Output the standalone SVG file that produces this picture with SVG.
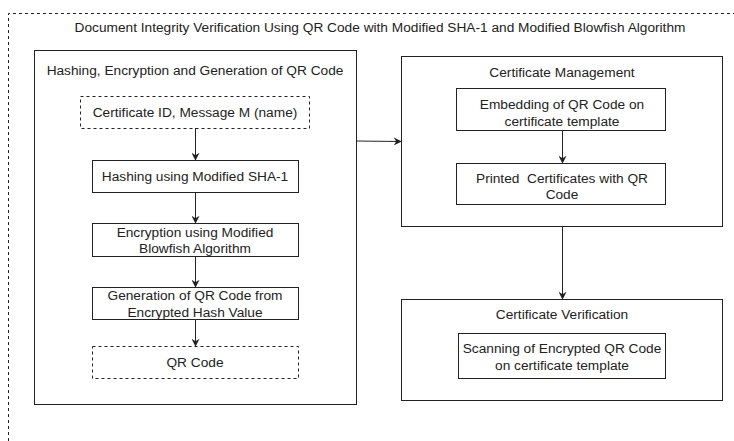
<svg xmlns="http://www.w3.org/2000/svg" width="734" height="441" viewBox="0 0 734 441">
<style>
text{font-family:"Liberation Sans",Arial,sans-serif;font-size:13.7px;fill:#222;text-anchor:middle;dominant-baseline:central;white-space:pre}
.box{fill:#fff;stroke:#222;stroke-width:1}
.dash{fill:#fff;stroke:#222;stroke-width:1;stroke-dasharray:3,3}
.c{fill:none;stroke:#222;stroke-width:1}
</style>
<defs>
<marker id="ah" viewBox="0 0 10 10" refX="9" refY="5" markerWidth="8" markerHeight="8" orient="auto" markerUnits="userSpaceOnUse"><path d="M0,0 L10,5 L0,10 L3,5 z" fill="#222"/></marker>
</defs>
<rect width="734" height="441" fill="#fff"/>
<g id="frame">
<path d="M8.5,441 L8.5,13.5 L734,13.5" fill="none" stroke="#222" stroke-dasharray="3,3"/>
<text x="380" y="27">Document Integrity Verification Using QR Code with Modified SHA-1 and Modified Blowfish Algorithm</text>
</g>
<g id="hashing-group">
<rect class="box" x="34.5" y="50.5" width="322" height="354"/>
<text x="195" y="70">Hashing, Encryption and Generation of QR Code</text>
</g>
<g id="cert-input"><rect class="dash" x="80.5" y="96.5" width="229" height="32"/><text x="195" y="112">Certificate ID, Message M (name)</text></g>
<g id="hashing"><rect class="box" x="92.5" y="160.5" width="206" height="32"/><text x="195" y="176">Hashing using Modified SHA-1</text></g>
<g id="encryption"><rect class="box" x="92.5" y="223.5" width="206" height="33"/><text x="195" y="232">Encryption using Modified</text><text x="195" y="248">Blowfish Algorithm</text></g>
<g id="generation"><rect class="box" x="92.5" y="287.5" width="206" height="32"/><text x="195" y="295">Generation of QR Code from</text><text x="195" y="312">Encrypted Hash Value</text></g>
<g id="qr-code"><rect class="dash" x="92.5" y="346.5" width="206" height="32"/><text x="195" y="362">QR Code</text></g>
<g id="cert-management">
<rect class="box" x="401.5" y="56.5" width="321" height="170"/>
<text x="562" y="72">Certificate Management</text>
</g>
<g id="embedding"><rect class="box" x="456.5" y="88.5" width="209" height="42"/><text x="562" y="104">Embedding of QR Code on</text><text x="562" y="121">certificate template</text></g>
<g id="printed"><rect class="box" x="456.5" y="163.5" width="209" height="41"/><text x="562" y="178">Printed  Certificates with QR</text><text x="562" y="194">Code</text></g>
<g id="cert-verification">
<rect class="box" x="401.5" y="299.5" width="321" height="101"/>
<text x="562" y="314">Certificate Verification</text>
</g>
<g id="scanning"><rect class="box" x="458.5" y="333.5" width="207" height="45"/><text x="562" y="348">Scanning of Encrypted QR Code</text><text x="562" y="365">on certificate template</text></g>
<g id="connectors">
<path class="c" d="M195.5,128 L195.5,160" marker-end="url(#ah)"/>
<path class="c" d="M195.5,192 L195.5,223" marker-end="url(#ah)"/>
<path class="c" d="M195.5,256 L195.5,287" marker-end="url(#ah)"/>
<path class="c" d="M195.5,319 L195.5,346" marker-end="url(#ah)"/>
<path class="c" d="M356,141 L401,141.5" marker-end="url(#ah)"/>
<path class="c" d="M562.5,130 L562.5,163" marker-end="url(#ah)"/>
<path class="c" d="M562.5,226 L562.5,299" marker-end="url(#ah)"/>
</g>
</svg>
